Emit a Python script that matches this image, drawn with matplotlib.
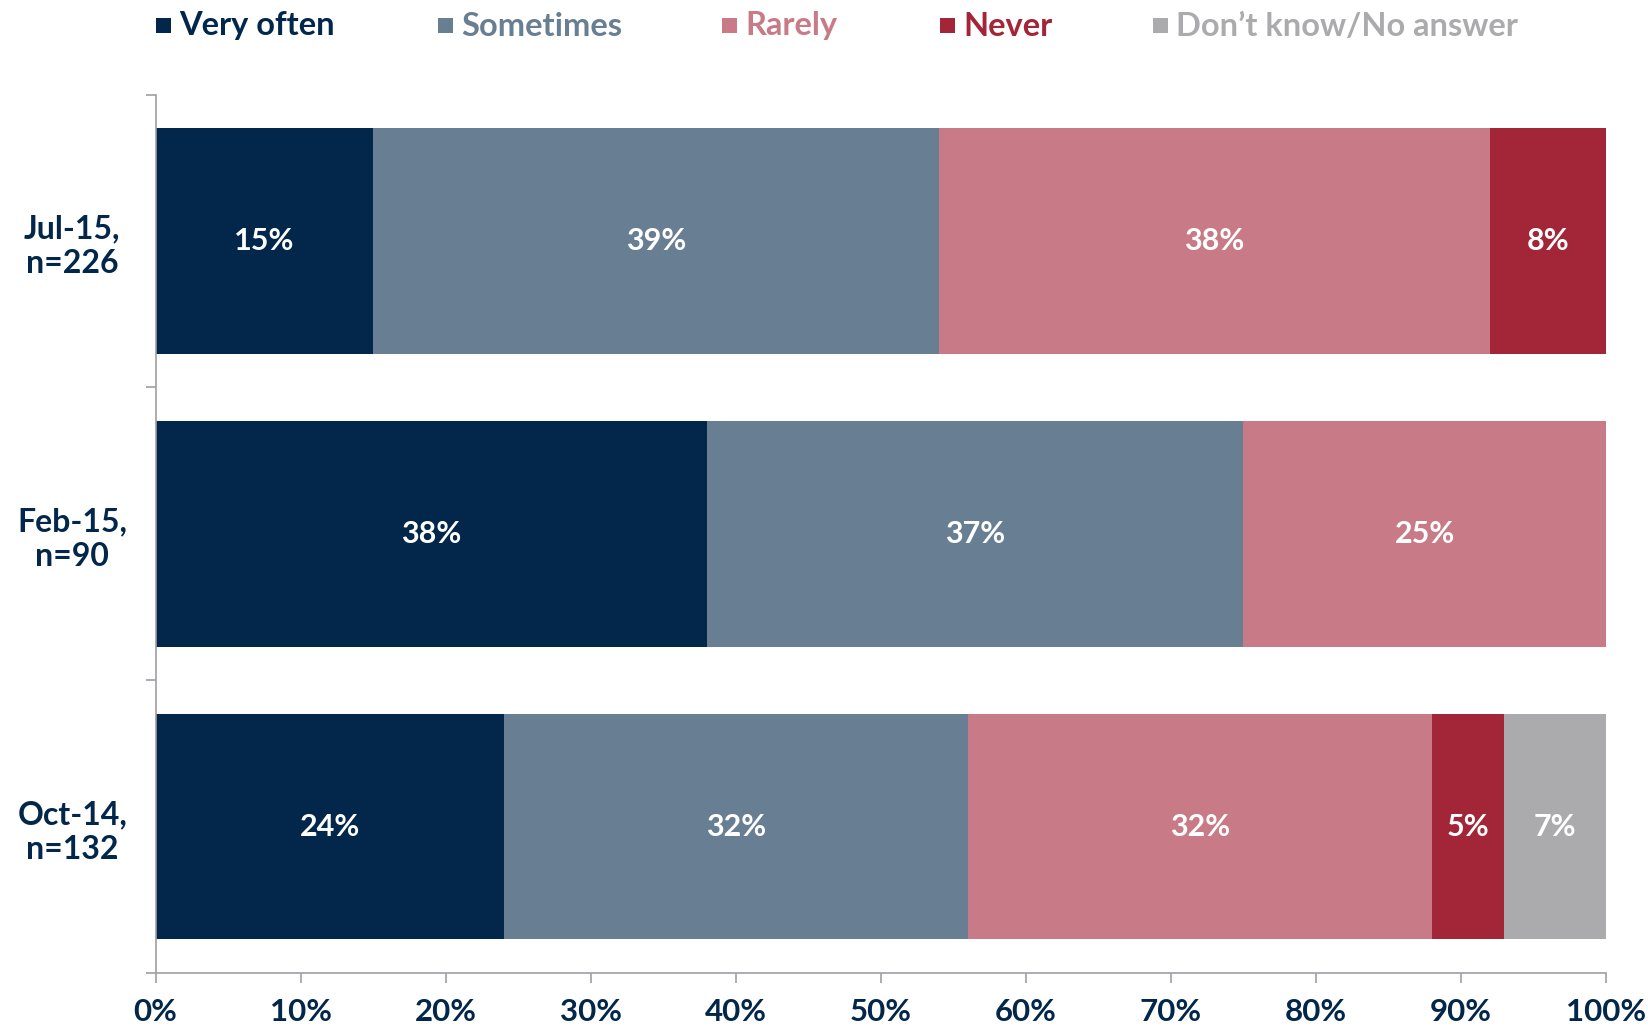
import matplotlib

matplotlib.use("Agg")
import matplotlib.pyplot as plt  # noqa: E402
from matplotlib.patches import Rectangle  # noqa: E402

plt.rcParams["font.family"] = ["Lato", "DejaVu Sans"]
plt.rcParams["font.weight"] = "bold"

CATEGORIES = ["Oct-14,\nn=132", "Feb-15,\nn=90", "Jul-15,\nn=226"]
SERIES = ["Very often", "Sometimes", "Rarely", "Never", "Don\u2019t know/No answer"]
VERY_OFTEN = [24, 38, 15]
SOMETIMES = [32, 37, 39]
RARELY = [32, 25, 38]
NEVER = [5, 0, 8]
DONT_KNOW = [7, 0, 0]
COLORS = ["#02274A", "#687E93", "#C87B87", "#A32638", "#ABABAD"]
X_TICKS = [0, 10, 20, 30, 40, 50, 60, 70, 80, 90, 100]

NAVY = "#02274A"
AXIS_GREY = "#A0A0A4"

fig = plt.figure(figsize=(16.49, 10.28), dpi=100)
ax = fig.add_axes([0.0944, 0.0535, 0.8795, 0.8545])

values = [VERY_OFTEN, SOMETIMES, RARELY, NEVER, DONT_KNOW]
ypos = list(range(len(CATEGORIES)))
left = [0] * len(CATEGORIES)
for vals, color in zip(values, COLORS):
    bars = ax.barh(ypos, vals, left=left, height=0.77, color=color, edgecolor="none")
    for b, v in zip(bars, vals):
        if v > 0:
            ax.text(
                b.get_x() + b.get_width() / 2,
                b.get_y() + b.get_height() / 2,
                f"{v}%",
                ha="center",
                va="center",
                color="white",
                fontsize=22,
                fontweight="bold",
            )
    left = [a + b for a, b in zip(left, vals)]

ax.set_xlim(0, 100)
ax.set_ylim(-0.5, len(CATEGORIES) - 0.5)

ax.set_xticks(X_TICKS)
ax.set_xticklabels([f"{t}%" for t in X_TICKS])
ax.tick_params(
    axis="x", length=7, width=1.2, color=AXIS_GREY, labelsize=22.5,
    labelcolor=NAVY, pad=11,
)

# boundaries get the tick marks, centres get the labels
ax.set_yticks([i - 0.5 for i in range(len(CATEGORIES) + 1)])
ax.set_yticklabels([])
ax.set_yticks(ypos, minor=True)
ax.set_yticklabels(
    CATEGORIES, minor=True, ha="center", fontsize=23, color=NAVY, linespacing=1.25
)
ax.tick_params(axis="y", which="major", length=7, width=1.2, color=AXIS_GREY)
ax.tick_params(axis="y", which="minor", length=0, pad=60)

for s in ["top", "right"]:
    ax.spines[s].set_visible(False)
for s in ["left", "bottom"]:
    ax.spines[s].set_color(AXIS_GREY)
    ax.spines[s].set_linewidth(1.2)

# legend drawn by hand: coloured squares with coloured text
LEG_X = [156, 438, 722, 940, 1153]
W, H = 1649, 1028
for name, color, x in zip(SERIES, COLORS, LEG_X):
    fig.add_artist(
        Rectangle(
            (x / W, 1 - 33 / H), 15 / W, 15 / H,
            transform=fig.transFigure, facecolor=color, edgecolor="none",
        )
    )
    fig.text(
        (x + 23) / W, 1 - 26 / H, name,
        ha="left", va="center", color=color, fontsize=23.5, fontweight="bold",
    )

fig.savefig("out.png", dpi=100)
